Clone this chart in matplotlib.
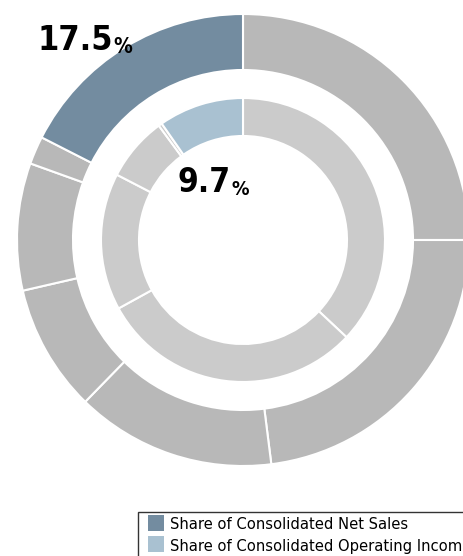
import matplotlib
matplotlib.use('Agg')
from matplotlib import pyplot as plt
from matplotlib.lines import Line2D

# Share of consolidated net sales (outer ring), clockwise from 12 o'clock
net_sales_shares = [25.0, 23.0, 14.3, 9.1, 9.1, 2.0, 17.5]
# Share of consolidated operating income (inner ring)
op_income_shares = [37.0, 30.0, 15.6, 7.3, 0.4, 9.7]

net_sales_label = '17.5'
op_income_label = '9.7'
legend_labels = ['Share of Consolidated Net Sales',
                 'Share of Consolidated Operating Income']

outer_grey = '#b8b8b8'
inner_grey = '#cbcbcb'
outer_hi = '#738ca0'
inner_hi = '#a9c1d1'

plt.rcParams['font.family'] = ['DejaVu Sans']
plt.rcParams['font.stretch'] = 'condensed'

W, H = 464, 556
fig = plt.figure(figsize=(W / 100, H / 100), dpi=100)
ax = fig.add_axes([0, 0, 1, 1])

cx, cy = 243, H - 240
outer_colors = [outer_grey] * (len(net_sales_shares) - 1) + [outer_hi]
inner_colors = [inner_grey] * (len(op_income_shares) - 1) + [inner_hi]

ax.pie(net_sales_shares, radius=226, center=(cx, cy), startangle=90,
       counterclock=False, colors=outer_colors, frame=True,
       wedgeprops=dict(width=56, edgecolor='white', linewidth=1.5))
ax.pie(op_income_shares, radius=142, center=(cx, cy), startangle=90,
       counterclock=False, colors=inner_colors, frame=True,
       wedgeprops=dict(width=38, edgecolor='white', linewidth=1.5))

ax.set_xlim(0, W)
ax.set_ylim(0, H)
ax.set_aspect('equal')
ax.axis('off')

# big percentage labels, with a smaller % sign right after the number
t1 = ax.text(38, H - 50, net_sales_label, fontsize=24.5, fontweight='bold',
             ha='left', va='baseline')
ax.annotate('%', xy=(1, 0), xycoords=t1, xytext=(0, 0), textcoords='offset points',
            fontsize=15, fontweight='bold', ha='left', va='bottom')
t2 = ax.text(178, H - 192, op_income_label, fontsize=24, fontweight='bold',
             ha='left', va='baseline')
ax.annotate('%', xy=(1, 0), xycoords=t2, xytext=(0, 0), textcoords='offset points',
            fontsize=14, fontweight='bold', ha='left', va='bottom')

# legend runs off the right edge, as in the original
handles = [Line2D([], [], marker='s', markersize=12.2, ls='none', mew=0, color=outer_hi),
           Line2D([], [], marker='s', markersize=12.2, ls='none', mew=0, color=inner_hi)]
leg = fig.legend(handles, legend_labels, loc='upper left',
                 bbox_to_anchor=(138 / W, 1 - 512 / H), fontsize=11.8,
                 fancybox=False, edgecolor='#333333', framealpha=1,
                 handlelength=1.65, handleheight=1.05, handletextpad=0.06,
                 labelspacing=0.32, borderpad=0.25, borderaxespad=0)
leg.get_frame().set_linewidth(1.0)

plt.savefig('out.png', dpi=100)
